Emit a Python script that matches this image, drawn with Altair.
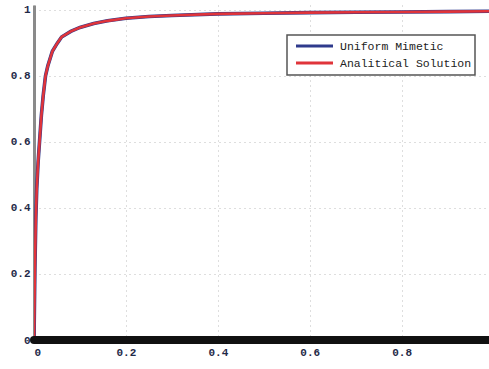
import altair as alt
import pandas as pd

# Solution profile sampled along the unit interval (boundary layer near x = 0)
x_vals = [0.0, 0.002, 0.004, 0.006, 0.009, 0.012, 0.016, 0.02, 0.025, 0.03,
          0.04, 0.05, 0.06, 0.08, 0.1, 0.13, 0.16, 0.2, 0.25, 0.3,
          0.4, 0.5, 0.6, 0.7, 0.8, 0.9, 0.99]
mimetic_vals = [0.0, 0.22, 0.37, 0.46, 0.54, 0.60, 0.68, 0.74, 0.80, 0.83,
                0.875, 0.898, 0.918, 0.935, 0.947, 0.959, 0.967, 0.975, 0.98, 0.983,
                0.988, 0.99, 0.992, 0.993, 0.994, 0.995, 0.996]
analytic_vals = [0.0, 0.22, 0.37, 0.46, 0.54, 0.60, 0.68, 0.74, 0.80, 0.83,
                 0.875, 0.898, 0.918, 0.935, 0.947, 0.959, 0.967, 0.975, 0.98, 0.983,
                 0.988, 0.99, 0.992, 0.993, 0.994, 0.995, 0.996]
series_names = ["Uniform Mimetic", "Analitical Solution"]
series_colors = ["#2e3a8c", "#e0343a"]
series_widths = [3.6, 2.6]

# Mesh extent drawn along y = 0
mesh_x = [0.0, 0.99]

rows = []
for name, vals in zip(series_names, [mimetic_vals, analytic_vals]):
    for xv, yv in zip(x_vals, vals):
        rows.append({"x": xv, "y": yv, "series": name})
curves = pd.DataFrame(rows)
mesh = pd.DataFrame({"x": [mesh_x[0]], "x2": [mesh_x[1]], "y": [0.0]})

font = "Liberation Mono"

x_scale = alt.Scale(domain=[0, 0.99], nice=False, zero=False)
y_scale = alt.Scale(domain=[0, 1.015], nice=False)

grid_axis = dict(grid=True, gridColor="#bdbdbd", gridDash=[1, 4], gridWidth=1,
                 labelFont=font, labelFontSize=11, labelColor="#1f2a48",
                 labelFontWeight="bold", ticks=False, title=None)

layers = []
for name, color, width in zip(series_names, series_colors, series_widths):
    layers.append(
        alt.Chart(curves).transform_filter(alt.datum.series == name)
        .mark_line(clip=True, color=color, strokeWidth=width)
        .encode(
            x=alt.X("x:Q", scale=x_scale,
                    axis=alt.Axis(values=[0, 0.2, 0.4, 0.6, 0.8], format="~g",
                                  domain=False, labelPadding=6, **grid_axis)),
            y=alt.Y("y:Q", scale=y_scale,
                    axis=alt.Axis(values=[0, 0.2, 0.4, 0.6, 0.8, 1], format="~g",
                                  domainColor="#8a8a8a", domainWidth=3,
                                  labelPadding=4, **grid_axis)),
        )
    )

mesh_rule = alt.Chart(mesh).mark_rule(color="#111111", strokeWidth=8,
                                      strokeCap="round").encode(
    x=alt.X("x:Q", scale=x_scale),
    x2="x2:Q",
    y=alt.Y("y:Q", scale=y_scale),
)
layers.append(mesh_rule)

# Legend box with one line sample and label per series
legend_df = pd.DataFrame({"series": series_names, "color": series_colors})
box = alt.Chart(legend_df.head(1)).mark_rect(
    fill="white", stroke="#555555", strokeWidth=1.5
).encode(x=alt.value(253), x2=alt.value(441), y=alt.value(30), y2=alt.value(70))
layers.append(box)
for i, (name, color) in enumerate(zip(series_names, series_colors)):
    row = legend_df[legend_df.series == name]
    ypos = 41 + 17 * i
    layers.append(
        alt.Chart(row).mark_rule(color=color, strokeWidth=3).encode(
            x=alt.value(262), x2=alt.value(299), y=alt.value(ypos))
    )
    layers.append(
        alt.Chart(row).mark_text(align="left", baseline="middle", font=font,
                                 fontSize=11.5, color="#222222").encode(
            x=alt.value(306), y=alt.value(ypos + 1), text="series:N")
    )

chart = alt.layer(*layers).properties(
    width=455, height=335,
    autosize=alt.AutoSizeParams(type="none"),
    padding={"left": 34, "top": 5, "right": 0, "bottom": 29},
).configure_view(stroke=None)

chart.save("out.html", embed_options={"renderer": "svg", "actions": False})
